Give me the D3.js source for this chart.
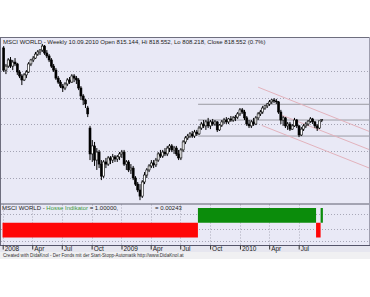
<!DOCTYPE html>
<html><head><meta charset="utf-8">
<script src="https://cdn.jsdelivr.net/npm/d3@7"></script>
<style>
html,body{margin:0;padding:0;background:#fff;}
svg{display:block;font-family:"Liberation Sans",Arial,sans-serif;}
</style></head><body>
<svg id="c" width="370" height="297"></svg>
<script>
// ---------- DATA ----------
const seriesName = "MSCI WORLD";
const firstWeek = "2008-01-04"; // weekly bars (Fridays)
const open  = [1086,1003,1018,1041,1018,1033,1026,996,981,966,985,996,1026,1041,1048,1063,1071,1078,1093,1067,1056,1041,1018,1003,973,958,943,936,951,966,958,981,973,966,936,906,891,861,786,689,719,666,696,651,606,659,651,674,666,678,670,678,689,696,651,659,629,636,599,576,554,531,584,610,629,644,655,648,666,689,681,696,689,711,719,704,711,689,674,704,734,749,756,764,756,771,764,786,801,794,809,794,809,801,809,779,797,809,816,809,820,816,824,827,839,854,846,824,801,794,809,801,824,839,846,861,869,876,884,891,887,884,846,816,824,794,801,782,794,816,794,760,782,794,801,812,820,809,794,786,815.144];
const high  = [1093,1026,1048,1052,1041,1048,1030,1003,988,992,1003,1033,1045,1056,1071,1078,1082,1101,1097,1078,1063,1048,1026,1011,981,966,951,958,973,977,988,988,981,973,943,913,895,869,794,741,734,711,704,666,666,674,681,681,689,685,685,696,704,704,666,666,651,644,606,584,576,591,621,636,651,666,666,674,696,704,704,711,719,726,726,719,719,704,711,741,756,764,771,775,779,779,794,809,816,816,824,816,820,816,812,801,816,824,827,824,831,831,835,846,861,861,854,831,816,816,824,831,846,854,869,872,880,891,895,898,895,887,854,831,827,809,809,801,824,820,797,790,801,809,816,827,824,812,801,812,818.552];
const low   = [996,988,1011,1011,1003,1018,985,973,947,962,973,992,1018,1033,1045,1056,1060,1071,1060,1048,1033,1011,996,966,951,936,921,928,943,951,955,958,951,928,891,872,861,827,666,659,644,629,636,591,599,636,644,651,655,659,659,666,674,644,629,621,614,591,569,546,516,524,576,599,621,636,636,640,659,674,674,681,681,696,696,689,681,666,666,696,726,741,749,749,749,756,760,779,786,779,786,782,794,794,771,775,790,801,801,801,809,809,812,820,831,839,816,794,786,786,794,797,816,831,839,854,861,869,876,880,876,839,801,794,786,779,775,779,790,786,752,756,775,786,794,805,801,786,775,782,808.218];
const close = [1003,1018,1041,1018,1033,1026,996,981,966,985,996,1026,1041,1048,1063,1071,1078,1093,1067,1056,1041,1018,1003,973,958,943,936,951,966,958,981,973,966,936,906,891,876,839,689,719,666,696,651,606,659,651,674,666,678,670,678,689,696,651,659,629,636,599,576,554,531,584,610,629,644,655,648,666,689,681,696,689,711,719,704,711,689,674,704,734,749,756,764,756,771,764,786,801,794,809,794,809,801,809,779,797,809,816,809,820,816,824,827,839,854,846,824,801,794,809,801,824,839,846,861,869,876,884,891,887,884,846,816,824,794,801,782,794,816,794,760,782,794,801,812,820,809,794,786,813,818.552];

// Hosse indicator (+1 / -1) as runs of weeks
const hosseFrom  = ["2008-01-04","2009-08-28","2010-08-27","2010-09-10"];
const hosseTo    = ["2009-08-21","2010-08-20","2010-09-03","2010-09-10"];
const hosseValue = [-1, 1, -1, 1];
const hosseLabel = "Hosse Indikator";
const hosseHead  = "1.00000,";
const hosseSecond = "0.00243";

// support / resistance levels
const levelPrices = [875, 816, 756];
const levelStart  = "2009-08-25";

// trend channel lines
const trendStartDate  = ["2010-02-26","2010-05-04","2010-03-09"];
const trendStartPrice = [939, 837, 796];
const trendEndDate    = ["2011-02-06","2011-02-06","2011-02-06"];
const trendEndPrice   = [772, 704, 635];

// axis
const tickDates  = ["2008-01-01","2008-04-01","2008-07-01","2008-10-01","2009-01-01","2009-04-01","2009-07-01","2009-10-01","2010-01-01","2010-04-01","2010-07-01"];
const tickLabels = ["2008","Apr","Jul","Oct","2009","Apr","Jul","Oct","2010","Apr","Jul"];
const gridPrices = [600, 700, 800, 900, 1000];
const footerText = "Created with DidaKnol - Der Fonds mit der Start-Stopp-Automatik  http://www.DidaKnol.at";

// ---------- DRAW ----------
const parse = d3.utcParse("%Y-%m-%d");
const dates = close.map((_, i) => d3.utcDay.offset(parse(firstWeek), 7 * i));

const svg = d3.select("#c");
const R = 370, TOP = 37, MAINB = 203.5, INDB = 245;

const x = d3.scaleUtc().domain([parse("2008-01-01"), parse("2010-07-01")]).range([2.7, 298.7]);
const y = d3.scaleLinear().domain([500, 1100]).range([204.4, 44.2]);
const yi = d3.scaleLinear().domain([-1, 1]).range([237.5, 208]);
const halfWeek = (x(dates[1]) - x(dates[0])) / 2;

// backgrounds
svg.append("rect").attr("x", 0).attr("y", TOP).attr("width", R).attr("height", INDB - TOP).attr("fill", "#e9e9f6");
svg.append("rect").attr("x", 0).attr("y", INDB).attr("width", R).attr("height", 7).attr("fill", "#e6e6ef");
svg.append("rect").attr("x", 0).attr("y", INDB + 7).attr("width", R).attr("height", 7).attr("fill", "#f0f0f2");

svg.append("defs").append("clipPath").attr("id", "mainClip")
  .append("rect").attr("x", 1).attr("y", TOP + 1).attr("width", R - 2).attr("height", MAINB - TOP - 1);

// main gridlines
svg.append("g").selectAll("line").data(gridPrices).join("line")
  .attr("x1", 1).attr("x2", R - 1)
  .attr("y1", d => Math.round(y(d)) + 0.5).attr("y2", d => Math.round(y(d)) + 0.5)
  .attr("stroke", "#a4a4b4").attr("stroke-width", 1).attr("stroke-dasharray", "1,2");

const main = svg.append("g").attr("clip-path", "url(#mainClip)");

// level lines
main.append("g").selectAll("line").data(levelPrices).join("line")
  .attr("x1", x(parse(levelStart))).attr("x2", R)
  .attr("y1", d => y(d)).attr("y2", d => y(d))
  .attr("stroke", "#9a9aa2").attr("stroke-width", 1);

// trend channel
main.append("g").selectAll("line").data(trendStartDate).join("line")
  .attr("x1", d => x(parse(d))).attr("y1", (d, i) => y(trendStartPrice[i]))
  .attr("x2", (d, i) => x(parse(trendEndDate[i]))).attr("y2", (d, i) => y(trendEndPrice[i]))
  .attr("stroke", "#e2b2bc").attr("stroke-width", 1);

// candles
const idx = close.map((c, i) => i);
const candles = main.append("g").selectAll("g").data(idx).join("g");
candles.append("line")
  .attr("x1", i => x(dates[i])).attr("x2", i => x(dates[i]))
  .attr("y1", i => y(high[i])).attr("y2", i => y(low[i]))
  .attr("stroke", "#000").attr("stroke-width", 1);
candles.append("rect")
  .attr("x", i => x(dates[i]) - 1).attr("width", 2)
  .attr("y", i => y(Math.max(open[i], close[i])))
  .attr("height", i => Math.max(0.8, Math.abs(y(open[i]) - y(close[i]))))
  .attr("fill", i => close[i] >= open[i] ? "#fff" : "#000")
  .attr("stroke", "#000").attr("stroke-width", 0.6);

// title
const n = close.length - 1;
const pct = (close[n] / close[n - 1] - 1) * 100;
const fmtD = d3.utcFormat("%d.%m.%Y");
svg.append("text").attr("x", 3).attr("y", 43.5).attr("font-size", 6).attr("fill", "#222")
  .text(`${seriesName} - Weekly ${fmtD(dates[n])} Open ${open[n].toFixed(3)}, Hi ${high[n].toFixed(3)}, Lo ${low[n].toFixed(3)}, Close ${close[n].toFixed(3)} (${pct.toFixed(1)}%)`);

// indicator panel gridlines
const indGridY = [214.5, 229.5, 241.5];
svg.append("g").selectAll("line").data(indGridY).join("line")
  .attr("x1", 1).attr("x2", R - 1).attr("y1", d => d).attr("y2", d => d)
  .attr("stroke", "#a8a8b8").attr("stroke-dasharray", "1,2");
svg.append("g").selectAll("line").data(tickDates).join("line")
  .attr("x1", d => Math.round(x(parse(d))) + 0.5).attr("x2", d => Math.round(x(parse(d))) + 0.5)
  .attr("y1", MAINB + 1).attr("y2", INDB)
  .attr("stroke", "#a8a8b8").attr("stroke-dasharray", "1,2");

// indicator bars
svg.append("g").selectAll("rect").data(hosseValue).join("rect")
  .attr("x", (d, i) => x(parse(hosseFrom[i])) - halfWeek)
  .attr("width", (d, i) => x(parse(hosseTo[i])) - x(parse(hosseFrom[i])) + 2 * halfWeek)
  .attr("y", d => Math.min(yi(d), yi(0)))
  .attr("height", d => Math.abs(yi(d) - yi(0)))
  .attr("fill", d => d > 0 ? "#0b8c0b" : "#ff0606");

// indicator title
const it = svg.append("text").attr("x", 2).attr("y", 209.5).attr("font-size", 6).attr("fill", "#222");
it.append("tspan").text(`${seriesName} - `);
it.append("tspan").attr("fill", "#3a9a3a").text(hosseLabel);
it.append("tspan").text(` = ${hosseHead}`);
svg.append("text").attr("x", 155).attr("y", 209.5).attr("font-size", 6).attr("fill", "#222").text(`= ${hosseSecond}`);

// frame lines
svg.append("line").attr("x1", 0).attr("x2", R).attr("y1", TOP + 0.5).attr("y2", TOP + 0.5).attr("stroke", "#6e6e7e");
svg.append("line").attr("x1", 0).attr("x2", R).attr("y1", MAINB + 0.5).attr("y2", MAINB + 0.5).attr("stroke", "#5e5e6e");
svg.append("line").attr("x1", 0.5).attr("x2", 0.5).attr("y1", TOP).attr("y2", INDB).attr("stroke", "#6e6e7e");
svg.append("line").attr("x1", R - 0.5).attr("x2", R - 0.5).attr("y1", TOP).attr("y2", INDB).attr("stroke", "#9e9eae");

// x axis
const ax = svg.append("g").attr("transform", `translate(0,${INDB + 0.5})`);
ax.call(d3.axisBottom(x).tickValues(tickDates.map(parse)).tickFormat((d, i) => tickLabels[i]).tickSize(4).tickSizeOuter(0));
ax.select(".domain").attr("stroke", "#55556a").attr("d", `M0,0H${R}`);
ax.selectAll(".tick line").attr("stroke", "#333");
ax.selectAll(".tick text").attr("font-size", 6.5).attr("fill", "#222").attr("text-anchor", "start")
  .attr("x", 1.5).attr("y", 0.5).attr("dy", "0.71em").attr("font-family", "'Liberation Sans',Arial,sans-serif");

// footer
svg.append("text").attr("x", 3).attr("y", 257).attr("font-size", 4.6).attr("fill", "#333").text(footerText);
</script>
</body></html>
